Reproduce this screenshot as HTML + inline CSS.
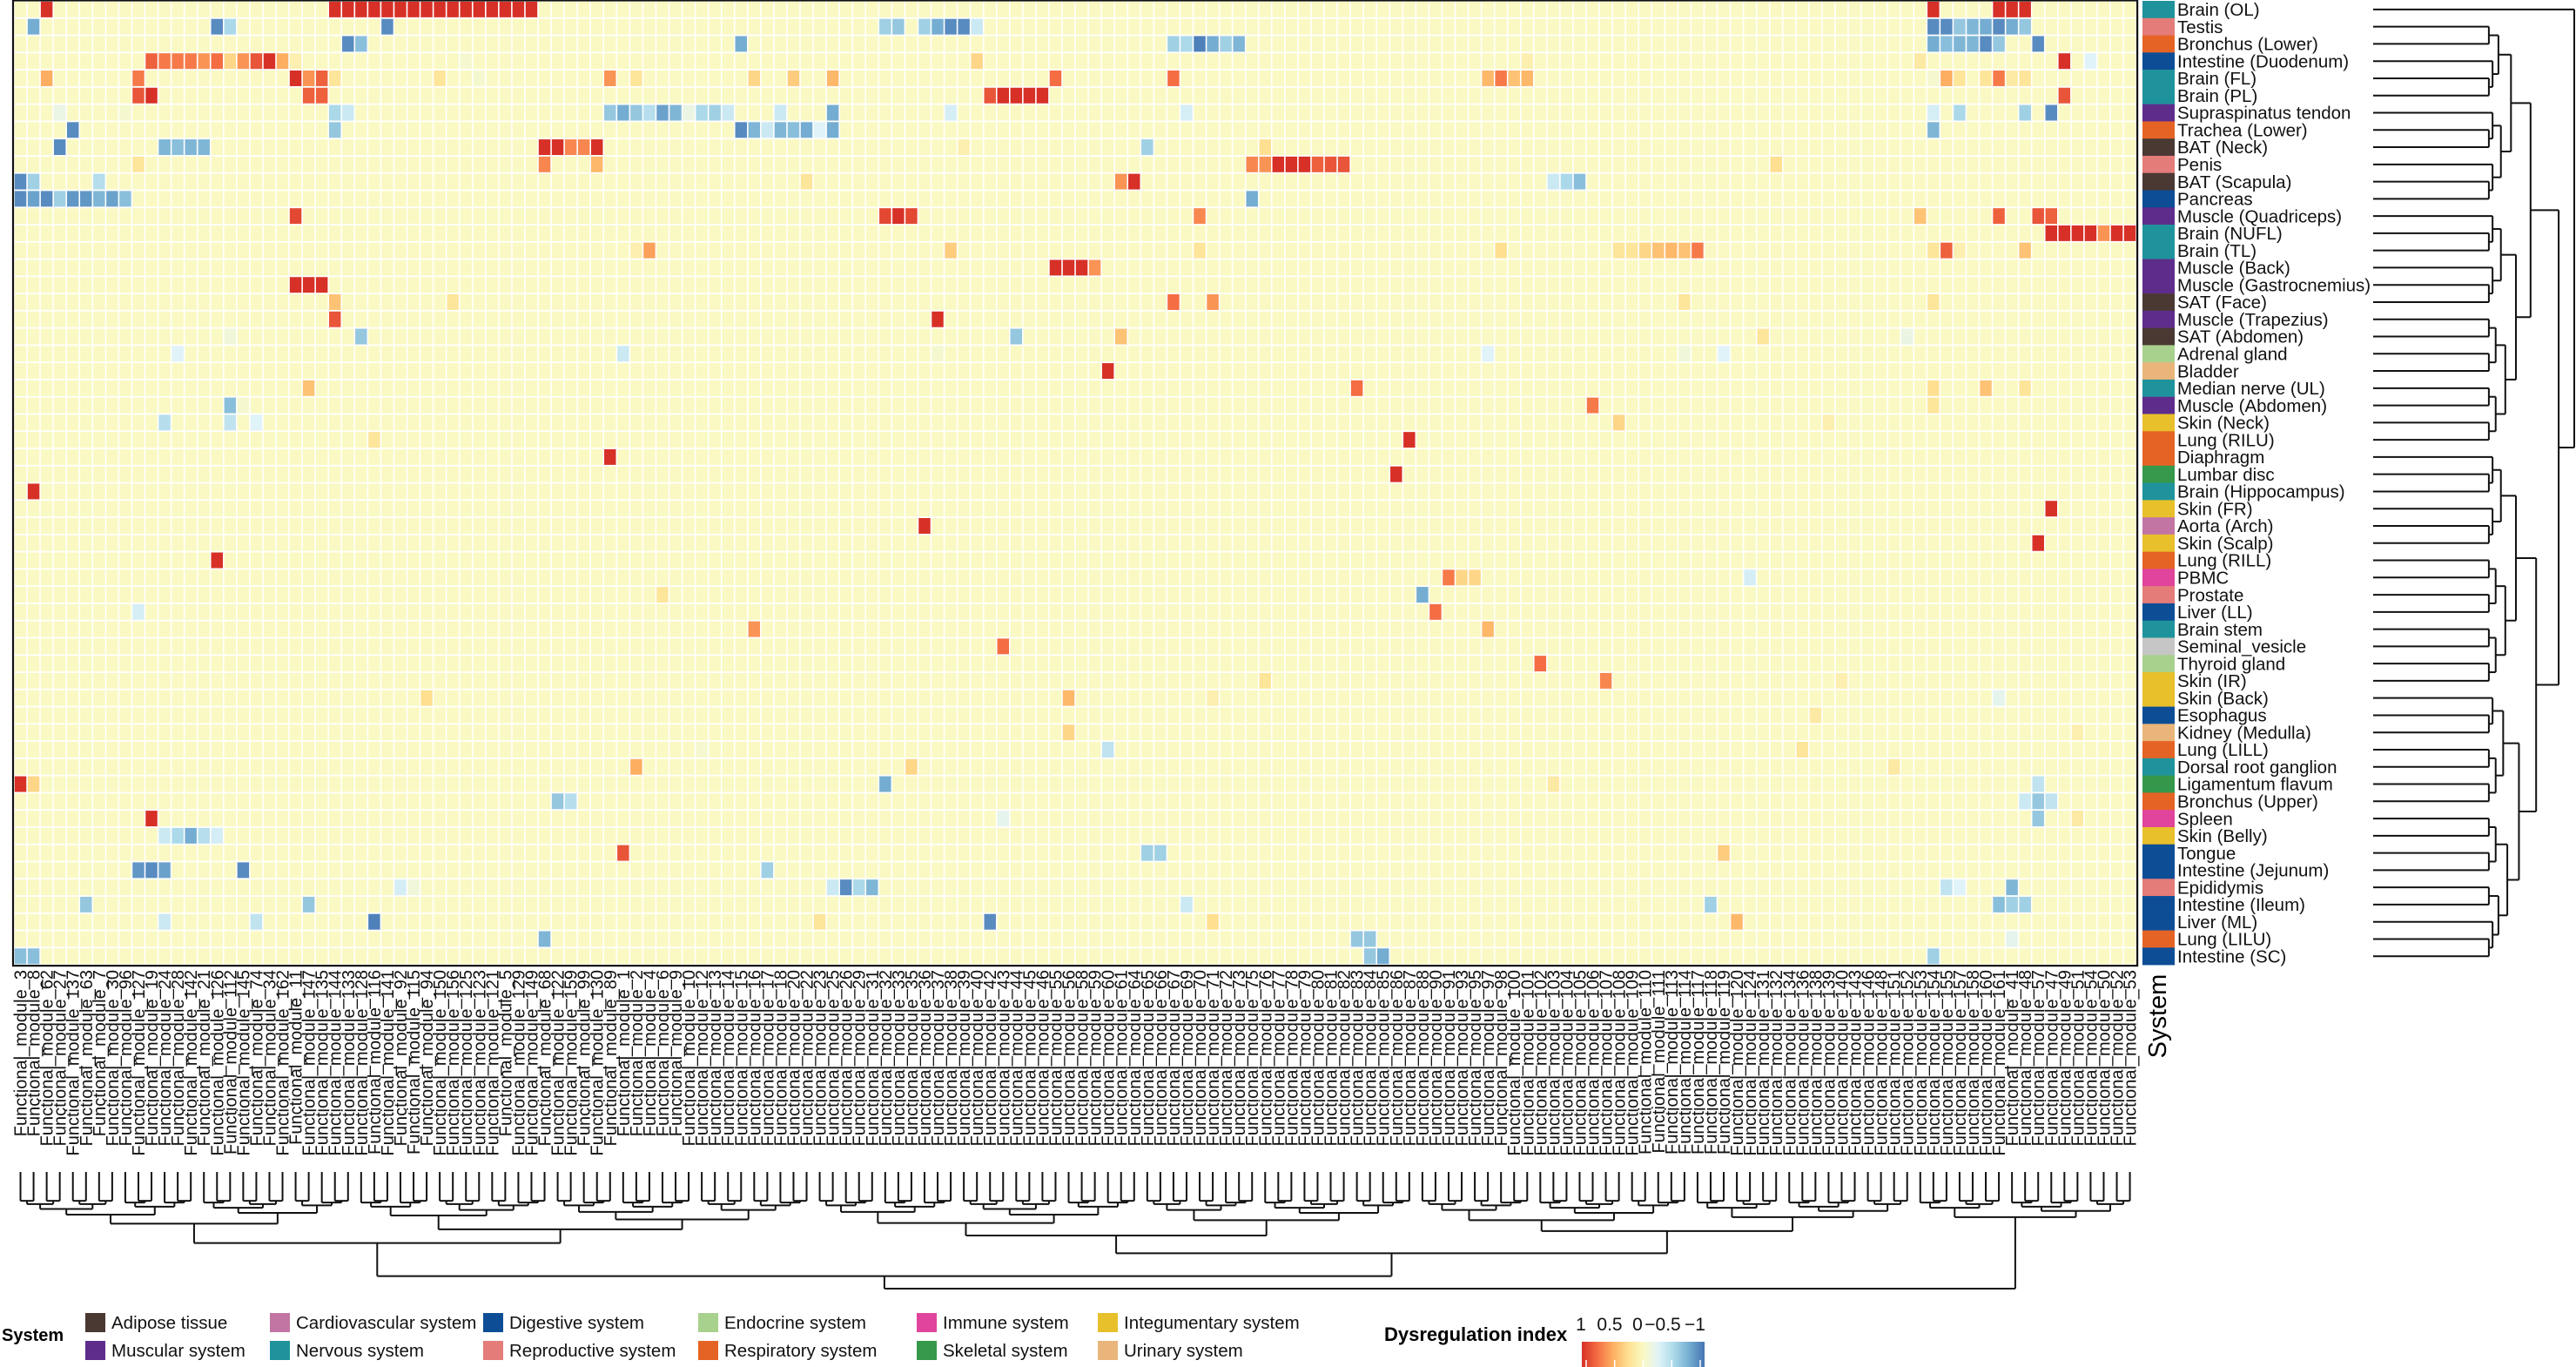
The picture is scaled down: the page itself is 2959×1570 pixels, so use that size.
<!DOCTYPE html>
<html><head><meta charset="utf-8">
<style>
html,body{margin:0;padding:0;background:#fff;}
svg{display:block;font-family:"Liberation Sans",Arial,sans-serif;}
</style></head>
<body>
<svg id="chart" width="2959" height="1570" viewBox="0 0 2959 1570" xmlns="http://www.w3.org/2000/svg">
<rect x="0" y="0" width="2959" height="1570" fill="#fff"/>
<g id="cells"></g>
<g id="rowlab"></g>
<g id="collab"></g>
<g id="rowdend"></g>
<g id="coldend"></g>
<text transform="translate(2488,1167) rotate(-90)" text-anchor="middle" font-size="29">System</text>
<g id="legend">
<text x="2" y="1540" font-size="20" font-weight="bold">System</text>
</g>
<g id="cbar">
<text x="1590" y="1540" font-size="22" font-weight="bold">Dysregulation index</text>
<defs><linearGradient id="grad" x1="0" x2="1" y1="0" y2="0">
<stop offset="0" stop-color="#d73027"/><stop offset="0.125" stop-color="#f46d43"/><stop offset="0.25" stop-color="#fdae61"/><stop offset="0.375" stop-color="#fee090"/><stop offset="0.5" stop-color="#faf9c3"/><stop offset="0.625" stop-color="#e0f3f8"/><stop offset="0.75" stop-color="#abd9e9"/><stop offset="0.875" stop-color="#74add1"/><stop offset="1" stop-color="#4575b4"/>
</linearGradient></defs>
<rect x="1817" y="1541" width="141" height="29" fill="url(#grad)"/>
</g>
</svg>
<script>
const rowLabels = ["Brain (OL)","Testis","Bronchus (Lower)","Intestine (Duodenum)","Brain (FL)","Brain (PL)","Supraspinatus tendon","Trachea (Lower)","BAT (Neck)","Penis","BAT (Scapula)","Pancreas","Muscle (Quadriceps)","Brain (NUFL)","Brain (TL)","Muscle (Back)","Muscle (Gastrocnemius)","SAT (Face)","Muscle (Trapezius)","SAT (Abdomen)","Adrenal gland","Bladder","Median nerve (UL)","Muscle (Abdomen)","Skin (Neck)","Lung (RILU)","Diaphragm","Lumbar disc","Brain (Hippocampus)","Skin (FR)","Aorta (Arch)","Skin (Scalp)","Lung (RILL)","PBMC","Prostate","Liver (LL)","Brain stem","Seminal_vesicle","Thyroid gland","Skin (IR)","Skin (Back)","Esophagus","Kidney (Medulla)","Lung (LILL)","Dorsal root ganglion","Ligamentum flavum","Bronchus (Upper)","Spleen","Skin (Belly)","Tongue","Intestine (Jejunum)","Epididymis","Intestine (Ileum)","Liver (ML)","Lung (LILU)","Intestine (SC)"];
const rowSystems = ["Nervous","Reproductive","Respiratory","Digestive","Nervous","Nervous","Muscular","Respiratory","Adipose","Reproductive","Adipose","Digestive","Muscular","Nervous","Nervous","Muscular","Muscular","Adipose","Muscular","Adipose","Endocrine","Urinary","Nervous","Muscular","Integumentary","Respiratory","Respiratory","Skeletal","Nervous","Integumentary","Cardiovascular","Integumentary","Respiratory","Immune","Reproductive","Digestive","Nervous","Other","Endocrine","Integumentary","Integumentary","Digestive","Urinary","Respiratory","Nervous","Skeletal","Respiratory","Immune","Integumentary","Digestive","Digestive","Reproductive","Digestive","Digestive","Respiratory","Digestive"];
const colModules = [3,8,62,27,137,63,7,30,96,127,19,24,28,142,21,126,112,145,74,34,162,11,147,135,144,133,128,116,141,92,115,94,150,156,125,123,121,5,129,149,68,122,159,99,130,89,
1,2,4,6,9,10,12,13,14,15,16,17,18,20,22,23,25,26,29,31,32,33,35,36,37,38,39,40,42,43,44,45,46,55,56,58,59,60,61,64,65,66,67,69,70,71,72,73,75,76,77,78,79,80,81,82,83,84,85,86,87,88,90,91,93,95,97,98,100,101,102,103,104,105,106,107,108,109,110,111,113,114,117,118,119,120,124,131,132,134,136,138,139,140,143,146,148,151,152,153,154,155,157,158,160,161,
41,48,57,47,49,51,54,50,52,53];
const legendSystems = ["Adipose","Cardiovascular","Digestive","Endocrine","Immune","Integumentary","Muscular","Nervous","Reproductive","Respiratory","Skeletal","Urinary"];
const legendLabels = ["Adipose tissue","Cardiovascular system","Digestive system","Endocrine system","Immune system","Integumentary system","Muscular system","Nervous system","Reproductive system","Respiratory system","Skeletal system","Urinary system"];
const scaleTicks = [1,0.5,0,-0.5,-1];
const scaleTickLabels = ["1","0.5","0","\u22120.5","\u22121"];

const cellRows = [
0,0,0,0,0,0,0,0,0,0,0,0,0,0,0,0,0,0,0,0,0,
1,1,1,1,1,1,1,1,1,1,1,1,1,1,1,1,1,1,1,
2,2,2,2,2,2,2,2,2,2,2,2,2,2,2,2,
3,3,3,3,3,3,3,3,3,3,3,3,3,3,3,3,3,3,
4,4,4,4,4,4,4,4,4,4,4,4,4,4,4,4,4,4,4,4,4,4,4,4,4,4,
5,5,5,5,5,5,5,5,5,5,
6,6,6,6,6,6,6,6,6,6,6,6,6,6,6,6,6,6,6,6,6,6,
7,7,7,7,7,7,7,7,7,7,7,
8,8,8,8,8,8,8,8,8,8,8,8,8,
9,9,9,9,9,9,9,9,9,9,9,9,
10,10,10,10,10,10,10,10,10,
11,11,11,11,11,11,11,11,11,11,
12,12,12,12,12,12,12,12,12,
13,13,13,13,13,13,13,
14,14,14,14,14,14,14,14,14,14,14,14,14,14,14,14,
15,15,15,15,16,16,16,
17,17,17,17,17,17,18,18,
19,19,19,19,19,19,20,20,20,20,20,20,21,
22,22,22,22,22,23,23,23,23,24,24,24,24,24,
25,25,26,27,28,29,30,31,32,33,33,33,33,34,34,35,35,36,36,37,38,
39,39,39,40,40,40,40,41,42,42,43,43,43,44,44,44,
45,45,45,45,45,46,46,46,46,46,47,47,47,47,48,48,48,48,48,
49,49,49,49,50,50,50,50,50,51,51,51,51,51,51,51,51,51,
52,52,52,52,52,52,52,53,53,53,53,53,53,53,54,54,54,54,55,55,55,55,55];
const cellCols = [
2,24,25,26,27,28,29,30,31,32,33,34,35,36,37,38,39,146,151,152,153,
1,15,16,28,66,67,69,70,71,72,73,146,147,148,149,150,151,152,153,
25,26,55,88,89,90,91,92,93,146,147,148,149,150,151,154,
10,11,12,13,14,15,16,17,18,19,20,21,34,73,115,145,156,158,
2,9,21,22,23,24,32,35,45,47,56,59,62,79,88,112,113,114,115,146,147,148,150,151,152,153,
9,10,22,23,74,75,76,77,78,156,
3,8,24,25,45,46,47,48,49,50,51,52,53,54,58,62,71,89,146,148,153,155,
4,24,55,56,57,58,59,60,61,62,146,
3,11,12,13,14,40,41,42,43,44,72,86,95,
9,40,44,94,95,96,97,98,99,100,101,134,
0,1,6,60,84,85,117,118,119,
0,1,2,3,4,5,6,7,8,94,
21,66,67,68,90,145,151,154,155,
155,156,157,158,159,160,161,
47,48,71,90,113,122,123,124,125,126,127,128,146,147,148,153,
79,80,81,82,21,22,23,
24,33,88,91,127,146,24,70,
16,26,76,84,133,144,12,46,70,112,127,130,83,
22,102,146,150,153,16,17,120,146,11,16,18,122,138,
27,106,45,105,1,155,69,154,15,109,110,111,132,49,107,9,108,56,112,75,116,
95,121,139,31,80,91,151,137,80,157,52,83,136,47,68,143,
0,1,66,117,154,41,42,153,154,155,10,75,154,157,11,12,13,14,15,
46,86,87,130,9,10,11,17,57,29,30,62,63,64,65,147,148,152,
5,22,89,129,151,152,153,11,18,27,61,74,91,131,40,102,103,152,0,1,103,104,146];
const cellVals = [
1,1,1,1,1,1,1,1,1,1,1,1,1,1,1,1,1,1,1,1,1,
-0.75,-0.9,-0.5,-0.9,-0.55,-0.6,-0.55,-0.75,-0.9,-0.9,-0.35,-0.9,-0.9,-0.6,-0.7,-0.75,-0.9,-0.75,-0.6,
-0.9,-0.65,-0.75,-0.55,-0.5,-0.95,-0.75,-0.55,-0.7,-0.75,-0.65,-0.7,-0.7,-0.9,-0.6,-0.9,
0.8,0.7,0.7,0.7,0.6,0.75,0.3,0.6,0.85,1,0.5,0.1,-0.05,0.3,0.1,0.15,1,-0.25,
0.5,0.7,1,0.6,0.8,0.2,0.2,-0.05,0.6,0.2,0.3,0.35,0.45,0.75,0.75,0.45,0.7,0.4,0.45,-0.05,0.5,0.2,0.2,0.7,0.15,0.2,
0.85,1,0.8,0.8,0.85,1,1,1,1,0.85,
-0.15,-0.05,-0.5,-0.35,-0.6,-0.75,-0.6,-0.45,-0.8,-0.7,-0.15,-0.5,-0.55,-0.35,-0.35,-0.75,-0.3,-0.3,-0.3,-0.5,-0.55,-0.9,
-0.9,-0.6,-0.9,-0.7,-0.35,-0.7,-0.65,-0.75,-0.25,-0.75,-0.7,
-0.9,-0.7,-0.65,-0.7,-0.7,1,1,0.65,0.65,1,0.1,-0.55,0.25,
0.2,0.65,0.45,0.65,0.6,1,1,1,0.8,0.85,0.85,0.25,
-0.9,-0.55,-0.45,0.2,0.6,1,-0.35,-0.5,-0.65,
-0.9,-0.8,-0.9,-0.55,-0.85,-0.85,-0.7,-0.8,-0.65,-0.75,
0.9,0.9,1,0.9,0.65,0.4,0.8,0.85,0.8,
1,1,1,1,0.6,1,1,
0.1,0.55,0.35,0.2,0.25,0.2,0.2,0.3,0.4,0.45,0.4,0.7,0.2,0.8,0.1,0.4,
1,1,1,0.6,1,1,1,
0.4,0.2,0.75,0.6,0.2,0.2,0.85,1,
-0.1,-0.6,-0.6,0.4,0.2,-0.15,-0.25,-0.35,-0.05,-0.25,-0.1,-0.25,1,
0.4,0.75,0.25,0.4,0.2,-0.65,-0.05,0.7,0.2,-0.45,-0.4,-0.25,0.3,0.1,
0.2,1,1,1,1,1,1,1,1,0.7,0.3,0.3,-0.3,0.2,-0.75,-0.3,0.75,0.6,0.45,0.75,0.75,
0.2,0.65,0.1,0.25,0.45,0.1,-0.2,0.15,0.3,0.1,-0.05,-0.4,0.2,0.5,0.3,0.15,
1,0.3,-0.75,0.15,-0.4,-0.6,-0.45,-0.35,-0.6,-0.4,1,-0.2,-0.6,0.15,-0.35,-0.5,-0.75,-0.45,-0.3,
0.85,-0.55,-0.55,0.35,-0.85,-0.9,-0.8,-0.9,-0.55,-0.3,-0.1,-0.35,-0.9,-0.5,-0.7,-0.4,-0.25,-0.7,
-0.6,-0.6,-0.35,-0.55,-0.65,-0.55,-0.55,-0.35,-0.4,-0.95,0.2,-0.9,0.25,0.45,-0.7,-0.6,-0.6,-0.2,-0.65,-0.65,-0.6,-0.75,-0.55];

const systemColors = {Adipose:"#4a3833",Muscular:"#5e2d8c",Cardiovascular:"#c275a3",Nervous:"#1f939c",Digestive:"#0d4d96",Reproductive:"#e47c7a",Endocrine:"#a9d18e",Respiratory:"#e56425",Immune:"#e0449c",Skeletal:"#35984a",Integumentary:"#e8c02b",Urinary:"#e9b57a",Other:"#c6c6c6"};

const NS = "http://www.w3.org/2000/svg";
const X0 = 16, CW = 15.05, Y0 = 1, RH = 19.77;
const nCols = colModules.length, nRows = rowLabels.length;
const X1 = X0 + nCols*CW, Y1 = Y0 + nRows*RH;
function xPos(c){ return X0 + c*CW; }
function yPos(r){ return Y0 + r*RH; }
function mk(tag, attrs, parent){ const e=document.createElementNS(NS,tag); for(const k in attrs) e.setAttribute(k,attrs[k]); parent.appendChild(e); return e; }

const stops = [[1,[215,48,39]],[0.75,[244,109,67]],[0.5,[253,174,97]],[0.25,[254,224,144]],[0,[250,249,195]],[-0.25,[224,243,248]],[-0.5,[171,217,233]],[-0.75,[116,173,209]],[-1,[69,117,180]]];
function colorOf(v){
  v=Math.max(-1,Math.min(1,v));
  for(let i=0;i<stops.length-1;i++){
    const a=stops[i], b=stops[i+1];
    if(v<=a[0] && v>=b[0]){
      const t=(a[0]-v)/(a[0]-b[0]);
      const c=a[1].map((x,j)=>Math.round(x+(b[1][j]-x)*t));
      return "rgb("+c.join(",")+")";
    }
  }
  return "rgb(250,249,195)";
}

// heatmap grid
const gCells = document.getElementById("cells");
const grid = [];
for(let r=0;r<nRows;r++){ grid.push(new Array(nCols).fill(0)); }
for(let i=0;i<cellRows.length;i++){ grid[cellRows[i]][cellCols[i]] = cellVals[i]; }
for(let r=0;r<nRows;r++){
  for(let c=0;c<nCols;c++){
    const rc = mk("rect",{x:(xPos(c)+0.8).toFixed(2),y:(yPos(r)+0.9).toFixed(2),width:(CW-1.6).toFixed(2),height:(RH-1.8).toFixed(2),fill:colorOf(grid[r][c])},gCells);
    
    
  }
}
const border = mk("rect",{x:X0-1,y:Y0-0.5,width:X1-X0+2,height:Y1-Y0+1.5,fill:"none",stroke:"#111","stroke-width":2.2},gCells);



// row annotations + labels
const gRow = document.getElementById("rowlab");
for(let r=0;r<nRows;r++){
  const sw = mk("rect",{x:2461,y:yPos(r).toFixed(2),width:37,height:(RH+0.3).toFixed(2),fill:systemColors[rowSystems[r]]},gRow);
  
  
  const t = mk("text",{x:2501,y:(yPos(r)+RH/2+7.2).toFixed(2),"font-size":20.5,fill:"#111"},gRow);
  t.textContent = rowLabels[r];
  
  
}

// column labels
const gCol = document.getElementById("collab");
for(let c=0;c<nCols;c++){
  const cx = xPos(c)+CW/2+7;
  const t = mk("text",{transform:"translate("+cx.toFixed(2)+",1114) rotate(-90)","text-anchor":"end","font-size":20,fill:"#111"},gCol);
  t.textContent = "Functional_module_"+colModules[c];
  
  
}

// dendrograms (structure only)
function line(g,x1,y1,x2,y2,name){
  const l = mk("line",{x1:x1,y1:y1,x2:x2,y2:y2,stroke:"#111","stroke-width":2},g);
  
  
}
const gRD = document.getElementById("rowdend");
function rowTree(lo,hi,first){
  const n=hi-lo;
  if(n===1) return {p:yPos(lo)+RH/2, h:2726};
  let s = first ? lo+1 : lo+Math.max(1,Math.round(n*0.45));
  const a=rowTree(lo,s,false), b=rowTree(s,hi,false);
  const h = first ? 2957 : 2840 + 100*Math.pow(n/nRows,0.5);
  line(gRD,a.h,a.p,h,a.p,"row-dendrogram-branch");
  line(gRD,b.h,b.p,h,b.p,"row-dendrogram-branch");
  line(gRD,h,a.p,h,b.p,"row-dendrogram-branch");
  return {p:(a.p+b.p)/2,h:h};
}
rowTree(0,nRows,true);

const gCD = document.getElementById("coldend");
function colTree(lo,hi,first){
  const n=hi-lo;
  if(n===1) return {p:xPos(lo)+CW/2, h:1346};
  let s = first ? lo+145 : lo+Math.max(1,Math.round(n*(n%2?0.42:0.55)));
  const a=colTree(lo,s,false), b=colTree(s,hi,false);
  const h = first ? 1480 : 1372 + 100*Math.pow(n/nCols,0.6);
  line(gCD,a.p,a.h,a.p,h,"column-dendrogram-branch");
  line(gCD,b.p,b.h,b.p,h,"column-dendrogram-branch");
  line(gCD,a.p,h,b.p,h,"column-dendrogram-branch");
  return {p:(a.p+b.p)/2,h:h};
}
colTree(0,nCols,true);

// system legend
const gLeg = document.getElementById("legend");
const legX = [98,310,555,802,1053,1261];
for(let i=0;i<legendSystems.length;i++){
  const col=i%6, row=Math.floor(i/6);
  const y = row===0 ? 1508 : 1540;
  const sq = mk("rect",{x:legX[col],y:y,width:23,height:22,fill:systemColors[legendSystems[i]]},gLeg);
  
  
  const t = mk("text",{x:legX[col]+30,y:y+18,"font-size":20.5,fill:"#111"},gLeg);
  t.textContent = legendLabels[i];
  
  
}

// colour bar ticks
const gBar = document.getElementById("cbar");
function barX(v){ return 1822 + (1 - v)/2 * 131; }
const labX = [1816,1849,1881,1910,1947];
for(let i=0;i<scaleTicks.length;i++){
  const tk = mk("line",{x1:barX(scaleTicks[i]),y1:1562,x2:barX(scaleTicks[i]),y2:1570,stroke:"#fff","stroke-width":1.5},gBar);
  
  
  const t = mk("text",{x:labX[i],y:1528,"text-anchor":"middle","font-size":21,fill:"#111"},gBar);
  t.textContent = scaleTickLabels[i];
  
  
}
</script>
</body></html>
